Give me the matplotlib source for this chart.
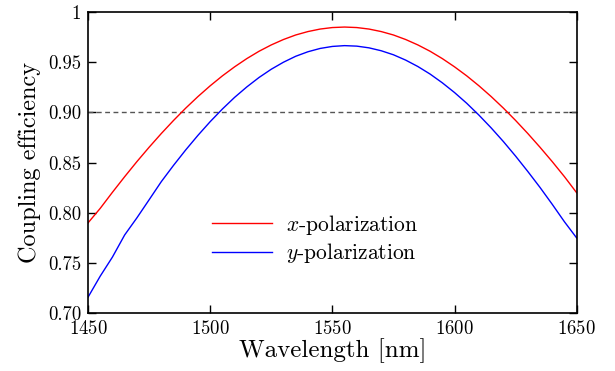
import matplotlib
matplotlib.use("Agg")
import matplotlib.pyplot as plt
from matplotlib.ticker import FixedLocator, FixedFormatter

plt.rcParams["font.family"] = "serif"
plt.rcParams["font.serif"] = ["cmr10", "DejaVu Serif"]
plt.rcParams["mathtext.fontset"] = "cm"
plt.rcParams["axes.unicode_minus"] = False
plt.rcParams["axes.formatter.use_mathtext"] = True

# wavelength grid (nm)
wavelength = [1450, 1455, 1460, 1465, 1470, 1475, 1480, 1485, 1490, 1495,
              1500, 1505, 1510, 1515, 1520, 1525, 1530, 1535, 1540, 1545,
              1550, 1555, 1560, 1565, 1570, 1575, 1580, 1585, 1590, 1595,
              1600, 1605, 1610, 1615, 1620, 1625, 1630, 1635, 1640, 1645,
              1650]

x_pol = [0.790, 0.8045, 0.8205, 0.8360, 0.8510, 0.8653, 0.8790, 0.8920, 0.9043, 0.9158,
         0.9265, 0.9364, 0.9454, 0.9536, 0.9609, 0.9672, 0.9726, 0.9771, 0.9805, 0.9830,
         0.9845, 0.9850, 0.9845, 0.9830, 0.9805, 0.9771, 0.9726, 0.9672, 0.9609, 0.9536,
         0.9454, 0.9364, 0.9265, 0.9158, 0.9043, 0.8920, 0.8790, 0.8653, 0.8510, 0.8360,
         0.8200]

y_pol = [0.716, 0.737, 0.756, 0.778, 0.795, 0.813, 0.8311, 0.8473, 0.8627, 0.8772,
         0.8908, 0.9034, 0.9150, 0.9254, 0.9348, 0.9430, 0.9500, 0.9559, 0.9604, 0.9637,
         0.9657, 0.9665, 0.9660, 0.9643, 0.9614, 0.9574, 0.9521, 0.9457, 0.9382, 0.9295,
         0.9198, 0.9091, 0.8973, 0.8846, 0.8710, 0.8565, 0.8412, 0.8253, 0.8085, 0.7911,
         0.775]

threshold = 0.90

x_ticks = [1450, 1500, 1550, 1600, 1650]
y_ticks = [0.70, 0.75, 0.80, 0.85, 0.90, 0.95, 1.0]
y_tick_labels = ["0.70", "0.75", "0.80", "0.85", "0.90", "0.95", "1"]

fig = plt.figure(figsize=(6.15, 3.71), dpi=100)
ax = fig.add_axes([0.1431, 0.1555, 0.7946, 0.8122])

ax.axhline(threshold, color="#555555", lw=1.0, ls=(0, (3.5, 2.5)))
ax.plot(wavelength, x_pol, color="red", lw=1.0, label="$x$-polarization")
ax.plot(wavelength, y_pol, color="blue", lw=1.0, label="$y$-polarization")

ax.set_xlim(1450, 1650)
ax.set_ylim(0.70, 1.0)
ax.xaxis.set_major_locator(FixedLocator(x_ticks))
ax.yaxis.set_major_locator(FixedLocator(y_ticks))
ax.yaxis.set_major_formatter(FixedFormatter(y_tick_labels))
ax.tick_params(direction="in", length=6, width=1, top=True, right=True,
               labelsize=13.5)
ax.tick_params(axis="y", pad=5)
ax.tick_params(axis="x", pad=5)
for s in ax.spines.values():
    s.set_linewidth(1.2)

ax.set_xlabel("Wavelength [nm]", fontsize=18, labelpad=0)
ax.set_ylabel("Coupling efficiency", fontsize=17.5, labelpad=5)

ax.legend(loc="center left", bbox_to_anchor=(0.253, 0.2466), frameon=False,
          fontsize=15.5, handlelength=2.8, handletextpad=0.65,
          labelspacing=0.2, borderpad=0, borderaxespad=0)

fig.savefig("out.png", dpi=100)
